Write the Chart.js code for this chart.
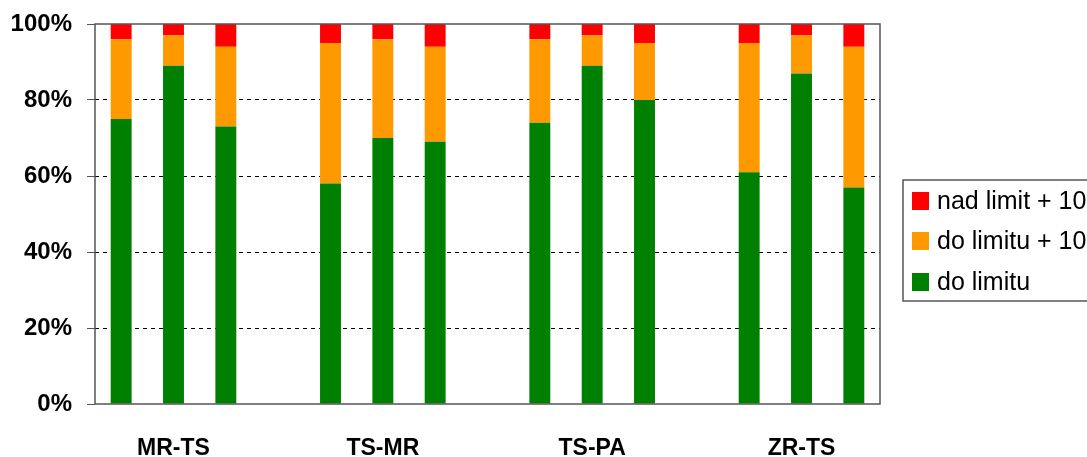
<!DOCTYPE html>
<html>
<head>
<meta charset="utf-8">
<script src="https://cdn.jsdelivr.net/npm/chart.js@4.4.0/dist/chart.umd.min.js"></script>
<style>
    html, body { margin: 0; padding: 0; background: #fff; overflow: hidden; }
    canvas { display: block; }
</style>
</head>
<body>
<canvas id="chart" width="1087" height="457"></canvas>
<script>
// Grupy (trasy) - kazda ma 3 slupki, miedzy grupami pusta kolumna
const groups = ['MR-TS', 'TS-MR', 'TS-PA', 'ZR-TS'];
const seriesNames = ['nad limit + 10%', 'do limitu + 10%', 'do limitu'];
const doLimitu = [75, 89, 73, 58, 70, 69, 74, 89, 80, 61, 87, 57];
const doLimitu10 = [21, 8, 21, 37, 26, 25, 22, 8, 15, 34, 10, 37];
const nadLimit = [4, 3, 6, 5, 4, 6, 4, 3, 5, 5, 3, 6];
const yTicks = [0, 20, 40, 60, 80, 100];

const colors = ['#FF0000', '#FF9900', '#008000'];
const FONT = '"Liberation Sans", Arial, sans-serif';

// rozlozenie na kategorie: 3 slupki + pusty slot
function spread(values) {
    const out = [];
    groups.forEach((g, i) => {
        out.push(values[i * 3], values[i * 3 + 1], values[i * 3 + 2]);
        if (i < groups.length - 1) out.push(null);
    });
    return out;
}
const labels = [];
groups.forEach((g, i) => {
    labels.push('', g, '');
    if (i < groups.length - 1) labels.push('');
});

// ramka obszaru wykresu
const plotBorder = {
    id: 'plotBorder',
    afterDraw(chart) {
        const { ctx, chartArea: a } = chart;
        ctx.save();
        ctx.strokeStyle = '#555';
        ctx.lineWidth = 1.5;
        ctx.strokeRect(a.left, a.top, a.right - a.left, a.bottom - a.top);
        ctx.restore();
    }
};

// legenda po prawej (ucieta przez krawedz)
const sideLegend = {
    id: 'sideLegend',
    afterDraw(chart) {
        const ctx = chart.ctx;
        ctx.save();
        ctx.strokeStyle = '#555';
        ctx.lineWidth = 1.5;
        ctx.strokeRect(903, 180, 260, 121);
        ctx.font = '25px ' + FONT;
        ctx.textBaseline = 'middle';
        const rows = [201, 241, 282];
        seriesNames.forEach((name, i) => {
            ctx.fillStyle = colors[i];
            ctx.fillRect(912, rows[i] - 9, 17, 18);
            ctx.fillStyle = '#000';
            ctx.fillText(name, 937, rows[i] + 1);
        });
        ctx.restore();
    }
};

const ctx = document.getElementById('chart').getContext('2d');
new Chart(ctx, {
    type: 'bar',
    data: {
        labels,
        datasets: [
            { label: seriesNames[2], data: spread(doLimitu), backgroundColor: colors[2] },
            { label: seriesNames[1], data: spread(doLimitu10), backgroundColor: colors[1] },
            { label: seriesNames[0], data: spread(nadLimit), backgroundColor: colors[0] }
        ]
    },
    options: {
        responsive: false,
        animation: false,
        datasets: {
            bar: { barPercentage: 0.4, categoryPercentage: 1.0, borderWidth: 0 }
        },
        layout: { padding: { left: 0, right: 207, top: 24, bottom: 0 } },
        plugins: {
            legend: { display: false },
            tooltip: { enabled: false }
        },
        scales: {
            x: {
                stacked: true,
                grid: { display: false, drawTicks: false },
                border: { display: false },
                ticks: {
                    autoSkip: false,
                    maxRotation: 0,
                    padding: 31,
                    color: '#000',
                    font: { family: FONT, size: 23, weight: 'bold' }
                },
                afterFit(scale) {
                    scale.height = 53;
                    scale.paddingLeft = 0;
                    scale.paddingRight = 0;
                }
            },
            y: {
                stacked: true,
                min: 0,
                max: 100,
                afterBuildTicks(scale) {
                    scale.ticks = yTicks.map(v => ({ value: v }));
                },
                grid: {
                    color: c => (c.tick && (c.tick.value === 0 || c.tick.value === 100)) ? 'rgba(0,0,0,0)' : '#000',
                    lineWidth: 1,
                    tickLength: 8,
                    tickColor: '#555',
                    tickBorderDash: []
                },
                border: { display: false, dash: [4, 4] },
                ticks: {
                    padding: 15,
                    color: '#000',
                    font: { family: FONT, size: 24, weight: 'bold' },
                    callback: v => v + '%'
                },
                afterFit(scale) {
                    scale.width = 95;
                    scale.paddingTop = 0;
                    scale.paddingBottom = 0;
                }
            }
        }
    },
    plugins: [plotBorder, sideLegend]
});
</script>
</body>
</html>
